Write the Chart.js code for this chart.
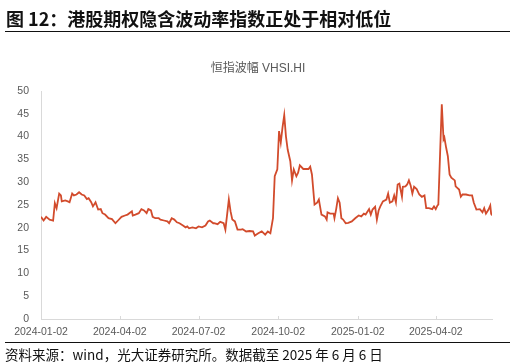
<!DOCTYPE html>
<html>
<head>
<meta charset="utf-8">
<script src="https://cdn.jsdelivr.net/npm/chart.js@4/dist/chart.umd.min.js"></script>
<style>
  html, body { margin: 0; padding: 0; background: #fff; }
  #wrap { position: relative; width: 516px; height: 364px; overflow: hidden; }
  #grafica { position: absolute; left: 0; top: 0; }
  .txt { position: absolute; white-space: nowrap; line-height: 1; }
  #head { left: 6px; top: 5px; font: bold 18px "Noto Sans CJK SC", sans-serif; color: #111; }
  #sub { left: 0; width: 516px; top: 58px; text-align: center; font: 12px "Liberation Sans", "Noto Sans CJK SC", sans-serif; color: #595959; }
  #src { left: 5px; top: 344px; font: 13.5px "Noto Sans CJK SC", sans-serif; color: #111; }
  .rule { position: absolute; left: 5px; width: 505px; height: 1px; background: #111; }
</style>
</head>
<body>
<div id="wrap">
  <canvas id="grafica" width="516" height="364"></canvas>
  <div class="txt" id="head">图 12：港股期权隐含波动率指数正处于相对低位</div>
  <div class="rule" style="top:31px"></div>
  <div class="txt" id="sub">恒指波幅 VHSI.HI</div>
  <div class="rule" style="top:342px"></div>
  <div class="txt" id="src">资料来源：wind，光大证券研究所。数据截至 2025 年 6 月 6 日</div>
</div>
<script>
//Даты и значения индекса VHSI
const dates = [
  '2024-01-02','2024-01-05','2024-01-08','2024-01-12','2024-01-16','2024-01-18','2024-01-20','2024-01-23','2024-01-25','2024-01-26',
  '2024-01-30','2024-02-02','2024-02-04','2024-02-07','2024-02-09','2024-02-12','2024-02-15','2024-02-18','2024-02-21','2024-02-24',
  '2024-02-26','2024-02-29','2024-03-02','2024-03-05','2024-03-08','2024-03-11','2024-03-13','2024-03-16','2024-03-20','2024-03-24',
  '2024-03-28','2024-03-31','2024-04-04','2024-04-08','2024-04-11','2024-04-16','2024-04-17','2024-04-20','2024-04-24','2024-04-27',
  '2024-04-30','2024-05-03','2024-05-05','2024-05-08','2024-05-10','2024-05-13','2024-05-17','2024-05-19','2024-05-23','2024-05-27',
  '2024-05-29','2024-06-01','2024-06-04','2024-06-07','2024-06-10','2024-06-14','2024-06-17','2024-06-19','2024-06-21','2024-06-25',
  '2024-06-29','2024-07-02','2024-07-06','2024-07-10','2024-07-13','2024-07-15','2024-07-19','2024-07-20','2024-07-24','2024-07-27',
  '2024-07-31','2024-08-02','2024-08-06','2024-08-08','2024-08-10','2024-08-13','2024-08-16','2024-08-20','2024-08-22','2024-08-26',
  '2024-08-30','2024-09-03','2024-09-05','2024-09-09','2024-09-13','2024-09-17','2024-09-20','2024-09-23','2024-09-26','2024-09-28',
  '2024-10-01','2024-10-03','2024-10-05','2024-10-07','2024-10-09','2024-10-11','2024-10-13','2024-10-16','2024-10-18','2024-10-20',
  '2024-10-23','2024-10-25','2024-10-27','2024-10-31','2024-11-06','2024-11-08','2024-11-10','2024-11-13','2024-11-16','2024-11-18',
  '2024-11-19','2024-11-21','2024-11-25','2024-11-27','2024-11-28','2024-12-01','2024-12-05','2024-12-06','2024-12-08','2024-12-10',
  '2024-12-12','2024-12-14','2024-12-16','2024-12-19','2024-12-22','2024-12-26','2024-12-30','2025-01-03','2025-01-06','2025-01-09',
  '2025-01-11','2025-01-15','2025-01-17','2025-01-19','2025-01-22','2025-01-24','2025-01-26','2025-01-28','2025-01-31','2025-02-04',
  '2025-02-06','2025-02-08','2025-02-11','2025-02-13','2025-02-15','2025-02-17','2025-02-19','2025-02-22','2025-02-23','2025-02-26',
  '2025-02-28','2025-03-02','2025-03-04','2025-03-06','2025-03-08','2025-03-11','2025-03-14','2025-03-17','2025-03-20','2025-03-22',
  '2025-03-25','2025-03-29','2025-03-31','2025-04-02','2025-04-04','2025-04-05','2025-04-07','2025-04-09','2025-04-11','2025-04-12',
  '2025-04-14','2025-04-16','2025-04-18','2025-04-20','2025-04-24','2025-04-25','2025-04-29','2025-05-01','2025-05-03','2025-05-07',
  '2025-05-11','2025-05-14','2025-05-16','2025-05-19','2025-05-23','2025-05-26','2025-05-28','2025-05-30','2025-06-02','2025-06-04',
  '2025-06-05','2025-06-06'
];
const vhsi = [
  22.4, 21.6, 22.4, 21.8, 21.6, 25.4, 24.3, 27.5, 27.1, 25.8,
  26.0, 25.8, 25.6, 27.5, 27.1, 27.3, 27.8, 27.3, 27.1, 26.3,
  26.5, 25.6, 24.7, 25.6, 24.0, 24.1, 23.2, 22.9, 22.1, 21.9,
  21.0, 21.6, 22.4, 22.7, 22.9, 23.6, 22.7, 22.9, 23.2, 24.1,
  23.8, 23.2, 24.1, 23.8, 22.4, 22.1, 22.1, 21.8, 21.6, 21.4,
  21.0, 22.1, 21.8, 21.2, 21.0, 20.5, 20.1, 20.3, 19.9, 20.1,
  19.9, 20.3, 20.1, 20.5, 21.4, 21.6, 21.0, 21.0, 20.8, 21.3,
  21.0, 19.6, 26.2, 23.6, 21.8, 21.4, 19.6, 19.6, 19.7, 19.2,
  19.3, 19.2, 18.3, 18.8, 19.2, 18.5, 19.2, 18.8, 22.1, 31.3,
  32.8, 41.2, 38.7, 42.0, 44.7, 40.0, 37.1, 34.6, 30.4, 32.8,
  31.3, 32.1, 33.7, 32.9, 32.9, 33.4, 31.7, 25.1, 25.5, 26.2,
  25.1, 22.9, 22.5, 21.8, 23.4, 23.1, 23.1, 22.1, 24.1, 26.5,
  25.5, 22.1, 21.8, 21.0, 21.1, 21.4, 22.1, 22.7, 22.5, 23.1,
  22.9, 24.1, 22.9, 24.0, 24.6, 21.8, 23.8, 24.7, 25.8, 26.2,
  27.5, 25.5, 25.8, 27.1, 25.6, 29.5, 29.7, 26.8, 29.0, 29.1,
  29.5, 30.4, 29.3, 27.5, 29.0, 28.5, 27.3, 26.8, 27.1, 24.3,
  24.3, 24.1, 24.7, 24.1, 24.9, 25.1, 36.1, 47.1, 39.4, 39.8,
  37.6, 35.7, 31.7, 31.0, 30.4, 29.1, 28.4, 26.8, 27.3, 27.3,
  27.1, 27.1, 25.5, 24.0, 24.1, 23.4, 24.3, 23.1, 24.0, 24.9,
  23.1, 22.7
];
//Подписи оси X
const tickDates = ['2024-01-02', '2024-04-02', '2024-07-02', '2024-10-02', '2025-01-02', '2025-04-02'];
const yTicks = [0, 5, 10, 15, 20, 25, 30, 35, 40, 45, 50];

const DAY = 86400000;
const base = Date.parse(dates[0]);
const toDay = (s) => Math.round((Date.parse(s) - base) / DAY);
const fromDay = (d) => new Date(base + d * DAY).toISOString().slice(0, 10);

const points = dates.map((d, i) => ({ x: toDay(d), y: vhsi[i] }));

const tickFont = { family: '"Liberation Sans", Arial, sans-serif', size: 10.5 };
const axisGray = '#d9d9d9';

//Короткие внутренние засечки на оси X
const innerTicks = {
  id: 'innerTicks',
  afterDatasetsDraw(chart) {
    const x = chart.scales.x;
    const ctx = chart.ctx;
    ctx.save();
    ctx.strokeStyle = axisGray;
    ctx.lineWidth = 1;
    x.ticks.forEach((t) => {
      const px = Math.round(x.getPixelForValue(t.value)) + 0.5;
      ctx.beginPath();
      ctx.moveTo(px, x.top - 3);
      ctx.lineTo(px, x.top);
      ctx.stroke();
    });
    ctx.restore();
  }
};

const grafica = document.getElementById('grafica');
new Chart(grafica, {
  type: 'line',
  data: {
    datasets: [{
      label: '恒指波幅 VHSI.HI',
      data: points,
      borderColor: '#d24b2c',
      borderWidth: 1.8,
      pointRadius: 0,
      tension: 0,
      fill: false
    }]
  },
  options: {
    responsive: false,
    animation: false,
    layout: { padding: { top: 91, right: 24, bottom: 0, left: 0 } },
    plugins: { legend: { display: false }, title: { display: false }, tooltip: { enabled: false } },
    scales: {
      x: {
        type: 'linear',
        min: 0,
        max: toDay(dates[dates.length - 1]),
        afterBuildTicks: (axis) => { axis.ticks = tickDates.map(d => ({ value: toDay(d) })); },
        afterFit: (axis) => { axis.height = 45; },
        grid: { display: false, drawTicks: false },
        border: { display: true, color: axisGray, width: 1 },
        ticks: {
          autoSkip: false, maxRotation: 0, padding: 7,
          color: '#595959', font: tickFont,
          callback: (v) => fromDay(v)
        }
      },
      y: {
        min: 0,
        max: 50,
        afterBuildTicks: (axis) => { axis.ticks = yTicks.map(v => ({ value: v })); },
        afterFit: (axis) => { axis.width = 41; },
        grid: { display: false, drawTicks: false },
        border: { display: true, color: axisGray, width: 1 },
        ticks: { padding: 12, color: '#595959', font: tickFont }
      }
    }
  },
  plugins: [innerTicks]
});
</script>
</body>
</html>
